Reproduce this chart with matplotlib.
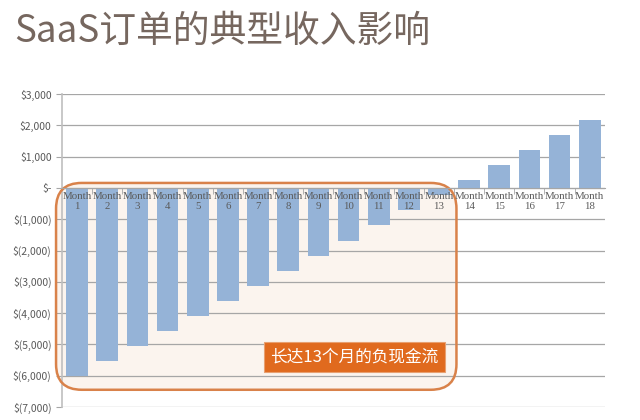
import numpy as np
import matplotlib.pyplot as plt
from matplotlib.patches import FancyBboxPatch
from matplotlib.ticker import FuncFormatter

plt.rcParams['font.family'] = ['Noto Sans CJK SC', 'DejaVu Sans']

months = ['Month\n%d' % i for i in range(1, 19)]
cash = [-6000, -5520, -5040, -4560, -4080, -3600, -3120, -2640, -2160,
        -1680, -1200, -720, -240, 240, 720, 1200, 1680, 2160]
yticks = [3000, 2000, 1000, 0, -1000, -2000, -3000, -4000, -5000, -6000, -7000]

title = 'SaaS订单的典型收入影响'
note = '长达13个月的负现金流'

fig = plt.figure(figsize=(6.4, 4.2), dpi=100)
ax = fig.add_axes([0.097, 0.031, 0.848, 0.745])

x = np.arange(len(cash))
ax.bar(x, cash, width=0.72, color='#95B3D7', zorder=3)

ax.set_xlim(-0.5, len(cash) - 0.5)
ax.set_ylim(-7000, 3000)
ax.set_yticks(yticks)


def money(v, pos):
    if v == 0:
        return '$-'
    if v < 0:
        return '$({:,.0f})'.format(-v)
    return '${:,.0f}'.format(v)


ax.yaxis.set_major_formatter(FuncFormatter(money))
ax.tick_params(axis='y', labelsize=7.5, colors='#a6a6a6', length=4, labelcolor='#595959')
ax.grid(axis='y', color='#a6a6a6', linewidth=0.9)
ax.yaxis.set_zorder(1.5)

# x axis on the zero line, labels drawn over the bars
ax.spines['bottom'].set_position(('data', 0))
ax.spines['bottom'].set_color('#a6a6a6')
ax.spines['bottom'].set_zorder(4)
ax.spines['left'].set_color('#bfbfbf')
ax.spines['left'].set_linewidth(1.2)
ax.spines['top'].set_visible(False)
ax.spines['right'].set_visible(False)
ax.set_xticks(x)
ax.set_xticklabels(months, fontsize=7.8, family='Liberation Serif', color='#5a5a5a',
                   linespacing=1.15)
ax.set_xticks(np.arange(len(cash) - 1) + 0.5, minor=True)
ax.tick_params(axis='x', which='major', length=0, pad=3)
ax.tick_params(axis='x', which='minor', length=4, color='#a6a6a6')
ax.xaxis.set_zorder(5)

# highlight box of the negative period
box_xy = (-0.7, -6450)
box_w, box_h = 13.28, 6610
style = 'round,pad=0,rounding_size=0.85'
asp = 1000 * 30.2 / 31.3
ax.add_patch(FancyBboxPatch(box_xy, box_w, box_h, boxstyle=style, mutation_aspect=asp,
                            facecolor='#FBF4EE', edgecolor='none', zorder=1,
                            clip_on=False))
ax.add_patch(FancyBboxPatch(box_xy, box_w, box_h, boxstyle=style, mutation_aspect=asp,
                            facecolor='none', edgecolor='#D9824A', linewidth=1.8,
                            zorder=3.5, clip_on=False))

ax.text(9.2, -5400, note, fontsize=12, color='white', ha='center', va='center',
        zorder=6,
        bbox=dict(boxstyle='square,pad=0.4', facecolor='#E06A1E',
                  edgecolor='#E8A070', linewidth=0.8))

fig.text(0.022, 0.925, title, fontsize=26.5, color='#76675F', va='center', ha='left')

plt.savefig('out.png', dpi=100)
